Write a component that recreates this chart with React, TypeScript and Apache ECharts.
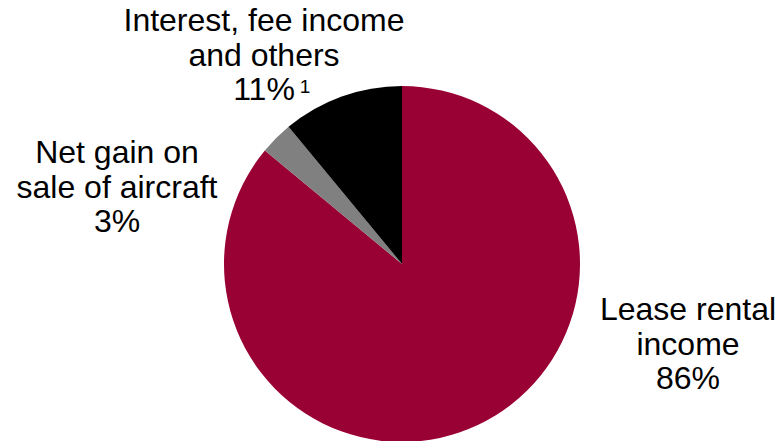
import React, { useEffect, useRef } from "react";
import * as echarts from "echarts";

const categories = ["Lease rental\nincome", "Net gain on\nsale of aircraft", "Interest, fee income\nand others"];
const shares = [86, 3, 11];
const footnotes = ["", "", "1"];
const colors = ["#990033", "#808080", "#000000"];

// label placement (layout only)
const labelPos = [
  { x: 688, y: 292 },
  { x: 117, y: 135 },
  { x: 264, y: 3 },
];
const footnotePos = [null, null, { x: 305, y: 77 }];

const FONT = "Liberation Sans, Arial, sans-serif";

export default function App() {
  const ref = useRef<HTMLDivElement>(null);
  useEffect(() => {
    if (!ref.current) return;
    const chart = echarts.init(ref.current, undefined, { renderer: "svg" });
    const graphics: any[] = [];
    categories.forEach((c, i) => {
      graphics.push({
        type: "text",
        x: labelPos[i].x,
        y: labelPos[i].y,
        silent: true,
        style: {
          text: `${c}\n${shares[i]}%`,
          fill: "#000",
          font: `32px ${FONT}`,
          lineHeight: 34.5,
          textAlign: "center",
          textVerticalAlign: "top",
        },
      });
      const fp = footnotePos[i];
      if (footnotes[i] && fp) {
        graphics.push({
          type: "text",
          x: fp.x,
          y: fp.y,
          silent: true,
          style: {
            text: footnotes[i],
            fill: "#000",
            font: `19px ${FONT}`,
            textAlign: "center",
            textVerticalAlign: "top",
          },
        });
      }
    });
    chart.setOption({
      animation: false,
      backgroundColor: "#ffffff",
      graphic: graphics,
      series: [
        {
          type: "pie",
          center: [402, 264],
          radius: 178,
          startAngle: 90,
          clockwise: true,
          silent: true,
          label: { show: false },
          labelLine: { show: false },
          itemStyle: { borderWidth: 0 },
          data: categories.map((c, i) => ({
            name: c,
            value: shares[i],
            itemStyle: { color: colors[i] },
          })),
        },
      ],
    });
    return () => chart.dispose();
  }, []);
  return (
    <div
      ref={ref}
      style={{ position: "absolute", left: 0, top: 0, width: 782, height: 441 }}
    />
  );
}
